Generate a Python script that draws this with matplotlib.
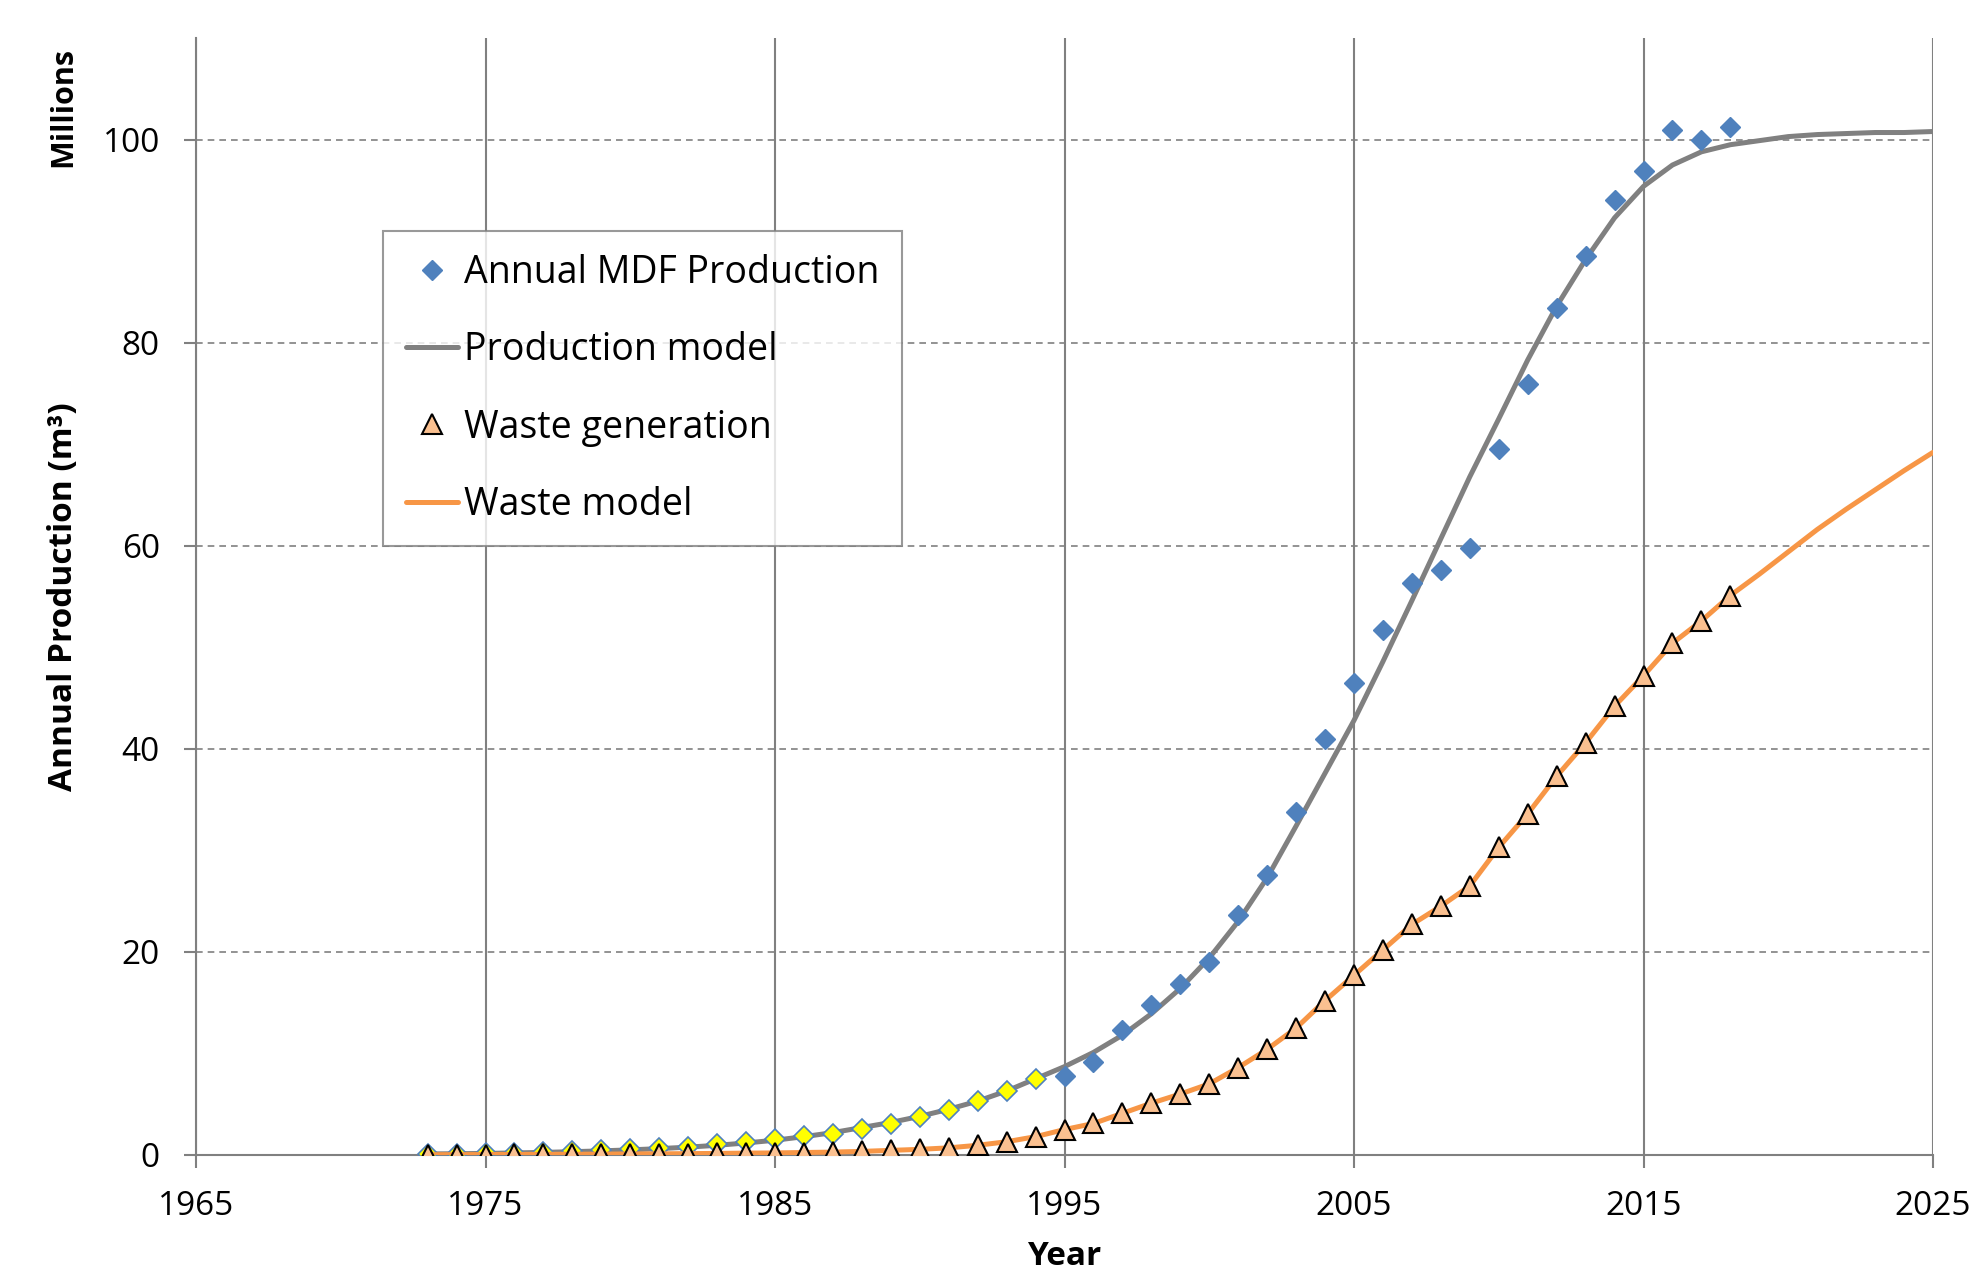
import numpy as np
import matplotlib
matplotlib.use('Agg')
import matplotlib.pyplot as plt

plt.rcParams['font.family'] = ['Open Sans', 'DejaVu Sans']

# observed MDF production (millions m3); early years (yellow) and later years (blue)
years_early = list(range(1973, 1995))
prod_early = [0.08, 0.12, 0.17, 0.23, 0.3, 0.4, 0.46, 0.6, 0.73, 0.83, 1.1, 1.25,
              1.55, 1.85, 2.1, 2.55, 3.05, 3.7, 4.4, 5.3, 6.3, 7.5]
years_late = list(range(1995, 2019))
prod_late = [7.8, 9.2, 12.3, 14.8, 16.8, 19.0, 23.6, 27.6, 33.8, 41.0, 46.5, 51.7,
             56.3, 57.6, 59.8, 69.5, 75.9, 83.4, 88.5, 94.1, 96.9, 100.9, 100.0, 101.2]

# waste generation observations
years_waste = list(range(1973, 2019))
waste = [0.02, 0.03, 0.04, 0.05, 0.06, 0.07, 0.08, 0.1, 0.11, 0.13, 0.15, 0.18,
         0.2, 0.24, 0.28, 0.35, 0.45, 0.55, 0.7, 0.95, 1.3, 1.8,
         2.5, 3.1, 4.1, 5.1, 6.0, 7.0, 8.6, 10.4, 12.5, 15.2, 17.7, 20.2,
         22.7, 24.5, 26.5, 30.3, 33.6, 37.3, 40.6, 44.2, 47.2, 50.4, 52.6, 55.1]

# model curves
years_model = list(range(1973, 2026))
prod_model = [0.1, 0.12, 0.15, 0.2, 0.25, 0.32, 0.4, 0.5, 0.62, 0.77, 0.95, 1.18,
              1.45, 1.8, 2.2, 2.7, 3.2, 3.8, 4.5, 5.3, 6.3, 7.5,
              8.7, 10.1, 11.8, 13.9, 16.4, 19.4, 23.0, 27.3, 32.4, 37.6, 42.8, 48.6,
              54.6, 60.7, 66.8, 72.5, 78.3, 83.6, 88.2, 92.3, 95.4, 97.5, 98.8, 99.5,
              99.9, 100.3, 100.5, 100.6, 100.7, 100.7, 100.8]
waste_model = [0.02, 0.03, 0.04, 0.05, 0.06, 0.07, 0.08, 0.1, 0.11, 0.13, 0.15, 0.18,
               0.2, 0.24, 0.28, 0.35, 0.45, 0.55, 0.7, 0.95, 1.3, 1.8,
               2.5, 3.1, 4.1, 5.1, 6.0, 7.0, 8.6, 10.4, 12.5, 15.2, 17.7, 20.2,
               22.7, 24.5, 26.5, 30.3, 33.6, 37.3, 40.6, 44.2, 47.2, 50.4, 52.6, 55.1,
               57.2, 59.4, 61.6, 63.6, 65.5, 67.4, 69.2]

blue = '#4F81BD'
grey = '#808080'
orange = '#F79646'

fig = plt.figure(figsize=(19.84, 12.7), dpi=100)
ax = fig.add_axes([0.0988, 0.0906, 0.8755, 0.8794])

ax.plot(years_model, prod_model, color=grey, lw=3.6, zorder=3, label='Production model',
        solid_capstyle='round')
ax.plot(years_early, prod_early, ls='none', marker='D', ms=10, mfc='#FFFF00', mec=blue,
        mew=1.2, zorder=4)
ax.plot(years_late, prod_late, ls='none', marker='D', ms=10, mfc=blue, mec=blue,
        zorder=4, label='Annual MDF Production')
ax.plot(years_model, waste_model, color=orange, lw=3.6, zorder=5, label='Waste model',
        solid_capstyle='round')
ax.plot(years_waste, waste, ls='none', marker='^', ms=14, mfc='#FAC090', mec='black',
        mew=1.5, zorder=6, label='Waste generation')

ax.set_xlim(1965, 2025)
ax.set_ylim(0, 110)
ax.set_xticks(range(1965, 2026, 10))
ax.set_yticks(range(0, 101, 20))
ax.grid(axis='x', color=grey, lw=1.5, ls='-')
ax.grid(axis='y', color=grey, lw=1.2, ls=(0, (4, 3)))
ax.set_axisbelow(True)
for s in ['top', 'right']:
    ax.spines[s].set_visible(False)
for s in ['left', 'bottom']:
    ax.spines[s].set_color(grey)
    ax.spines[s].set_linewidth(1.5)
ax.spines['bottom'].set_zorder(2)
ax.tick_params(axis='both', direction='out', length=9, width=1.5, color=grey,
               labelsize=24)
ax.tick_params(axis='x', pad=16)
ax.tick_params(axis='y', pad=17)

ax.set_xlabel('Year', fontsize=24, fontweight='bold')
ax.set_ylabel('Annual Production (m³)', fontsize=24, fontweight='bold')
ax.yaxis.set_label_coords(-0.067, 0.5)
ax.xaxis.set_label_coords(0.5, -0.076)
fig.text(0.032, 0.916, 'Millions', rotation=90, fontsize=22, fontweight='bold',
         ha='center', va='center')

h, l = ax.get_legend_handles_labels()
order = [l.index('Annual MDF Production'), l.index('Production model'),
         l.index('Waste generation'), l.index('Waste model')]
leg = ax.legend([h[i] for i in order], [l[i] for i in order], loc='upper left',
                bbox_to_anchor=(0.1077, 0.827), borderaxespad=0, fontsize=27,
                fancybox=False, frameon=True, edgecolor=grey, labelspacing=1.05,
                handlelength=1.4, handletextpad=0.15, borderpad=0.6, numpoints=1)
leg.get_frame().set_linewidth(1.5)

fig.savefig('out.png', dpi=100)
